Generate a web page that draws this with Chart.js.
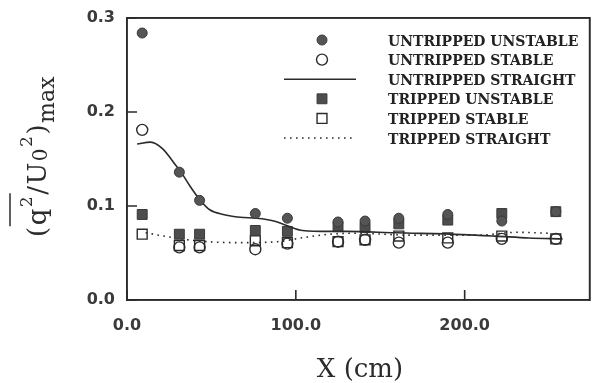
<!DOCTYPE html>
<html>
<head>
<meta charset="utf-8">
<title>Turbulence intensity vs X</title>
<script src="https://cdn.jsdelivr.net/npm/chart.js@4.4.1/dist/chart.umd.min.js"></script>
<style>
  html, body { margin: 0; padding: 0; background: #fff; }
</style>
</head>
<body>
<canvas id="myChart" width="598" height="383"></canvas>
<script>
// measuring stations along the channel (cm)
const stations = [9, 31, 43, 76, 95, 125, 141, 161, 190, 222, 254];

// (q^2/U0^2)max
const untrippedUnstable = [0.284, 0.136, 0.106, 0.092, 0.087, 0.083, 0.084, 0.087, 0.091, 0.084, 0.094];
const untrippedStable   = [0.181, 0.056, 0.056, 0.054, 0.060, 0.062, 0.064, 0.061, 0.061, 0.065, 0.065];
const trippedUnstable   = [0.091, 0.070, 0.070, 0.074, 0.073, 0.078, 0.077, 0.081, 0.085, 0.092, 0.094];
const trippedStable     = [0.070, 0.058, 0.058, 0.063, 0.061, 0.062, 0.064, 0.068, 0.066, 0.068, 0.065];

// straight channel curves
const untrippedStraightX = [6, 14, 21, 29, 32, 37, 43, 49, 57, 67, 77, 87, 95, 104, 120, 130, 159, 199, 218, 238, 258];
const untrippedStraightY = [0.166, 0.168, 0.161, 0.143, 0.136, 0.122, 0.107, 0.096, 0.091, 0.088, 0.087, 0.084, 0.079, 0.074, 0.073, 0.073, 0.0715, 0.0696, 0.068, 0.066, 0.065];
const trippedStraightX = [11, 32, 48, 67, 89, 105, 120, 134, 169, 208, 231, 250];
const trippedStraightY = [0.0715, 0.065, 0.062, 0.061, 0.062, 0.0665, 0.070, 0.071, 0.069, 0.069, 0.072, 0.071];

const xTicks = [0, 100, 200];
const yTicks = [0, 0.1, 0.2, 0.3];

const canvas = document.getElementById('myChart').getContext('2d');

function pares(xs, ys) {
    return xs.map((x, i) => ({ x: x, y: ys[i] }));
}

const ink = '#2b2b2b';
const clear = 'rgba(0,0,0,0)';
const borde = { display: true, color: ink, width: 1.6 };

// legend, axis titles and inward ticks
const decor = {
    id: 'decor',
    afterDraw(chart) {
        const ctx = chart.ctx;
        const a = chart.chartArea;
        const sx = chart.scales.x;
        const sy = chart.scales.y;

        // legend
        ctx.save();
        ctx.font = 'bold 14px "DejaVu Serif"';
        ctx.textBaseline = 'middle';
        ctx.textAlign = 'left';
        chart.data.datasets.forEach((ds, i) => {
            const y = 40 + i * 19.6;
            const sxm = 322;
            ctx.save();
            if (ds.showLine) {
                ctx.strokeStyle = ds.borderColor;
                ctx.lineWidth = ds.borderWidth;
                ctx.setLineDash(ds.borderDash || []);
                ctx.beginPath();
                ctx.moveTo(284, y);
                ctx.lineTo(356, y);
                ctx.stroke();
            } else {
                ctx.fillStyle = ds.pointBackgroundColor;
                ctx.strokeStyle = ds.pointBorderColor;
                ctx.lineWidth = ds.pointBorderWidth;
                ctx.beginPath();
                if (ds.pointStyle === 'rect') {
                    const s = ds.pointRadius * Math.SQRT1_2;
                    ctx.rect(sxm - s, y - s, 2 * s, 2 * s);
                } else {
                    ctx.arc(sxm, y, ds.pointRadius, 0, Math.PI * 2);
                }
                ctx.fill();
                ctx.stroke();
            }
            ctx.restore();
            ctx.fillStyle = '#222';
            ctx.fillText(ds.label, 388, y + 2);
        });
        ctx.restore();

        // x title
        ctx.save();
        ctx.font = '26px "DejaVu Serif"';
        ctx.textAlign = 'center';
        ctx.textBaseline = 'alphabetic';
        ctx.fillStyle = ink;
        ctx.fillText('X (cm)', 360, 377);
        ctx.restore();

        // y title, rotated: (q2/U02)max with overline on q2
        const partes = [
            { t: '(', f: 26, dy: 0 },
            { t: 'q', f: 26, dy: 0, bar: true },
            { t: '2', f: 17, dy: -14, bar: true },
            { t: '/', f: 26, dy: 0 },
            { t: 'U', f: 26, dy: 0 },
            { t: '0', f: 20, dy: 1 },
            { t: '2', f: 17, dy: -14 },
            { t: ')', f: 26, dy: 0 },
            { t: 'max', f: 22, dy: 8 }
        ];
        const gap = 1.5;
        ctx.save();
        ctx.fillStyle = ink;
        ctx.strokeStyle = ink;
        ctx.textAlign = 'left';
        ctx.textBaseline = 'alphabetic';
        let total = 0;
        for (const p of partes) {
            ctx.font = p.f + 'px "DejaVu Serif"';
            p.w = ctx.measureText(p.t).width;
            total += p.w + gap;
        }
        ctx.translate(46, 156);
        ctx.rotate(-Math.PI / 2);
        let cx = -total / 2;
        let barIni = null, barFin = null;
        for (const p of partes) {
            ctx.font = p.f + 'px "DejaVu Serif"';
            ctx.fillText(p.t, cx, p.dy);
            if (p.bar) {
                if (barIni === null) barIni = cx;
                barFin = cx + p.w;
            }
            cx += p.w + gap;
        }
        ctx.lineWidth = 1.5;
        ctx.setLineDash([]);
        ctx.beginPath();
        ctx.moveTo(barIni - 1, -36);
        ctx.lineTo(barFin + 3, -36);
        ctx.stroke();
        ctx.restore();

        // plot box and inward ticks
        ctx.save();
        ctx.setTransform(1, 0, 0, 1, 0, 0);
        ctx.strokeStyle = ink;
        ctx.lineWidth = 1.6;
        ctx.setLineDash([]);
        ctx.strokeRect(a.left, a.top, a.right - a.left, a.bottom - a.top);
        ctx.beginPath();
        for (const v of xTicks) {
            const px = sx.getPixelForValue(v);
            ctx.moveTo(px, a.bottom);
            ctx.lineTo(px, a.bottom - 10);
        }
        for (const v of yTicks) {
            const py = sy.getPixelForValue(v);
            ctx.moveTo(a.left, py);
            ctx.lineTo(a.left + 10, py);
        }
        ctx.stroke();
        ctx.restore();
    }
};

const myChart = new Chart(canvas, {
    type: 'scatter',
    data: {
        datasets: [
            {
                label: 'UNTRIPPED UNSTABLE',
                data: pares(stations, untrippedUnstable),
                pointStyle: 'circle',
                pointRadius: 5,
                pointBackgroundColor: '#555',
                pointBorderColor: '#3a3a3a',
                pointBorderWidth: 1
            },
            {
                label: 'UNTRIPPED STABLE',
                data: pares(stations, untrippedStable),
                pointStyle: 'circle',
                pointRadius: 5.5,
                pointBackgroundColor: clear,
                pointBorderColor: ink,
                pointBorderWidth: 1.4
            },
            {
                label: 'UNTRIPPED STRAIGHT',
                data: pares(untrippedStraightX, untrippedStraightY),
                showLine: true,
                pointRadius: 0,
                borderColor: ink,
                borderWidth: 1.6,
                cubicInterpolationMode: 'monotone'
            },
            {
                label: 'TRIPPED UNSTABLE',
                data: pares(stations, trippedUnstable),
                pointStyle: 'rect',
                pointRadius: 7,
                pointBackgroundColor: '#4d4d4d',
                pointBorderColor: '#3a3a3a',
                pointBorderWidth: 1
            },
            {
                label: 'TRIPPED STABLE',
                data: pares(stations, trippedStable),
                pointStyle: 'rect',
                pointRadius: 7,
                pointBackgroundColor: clear,
                pointBorderColor: ink,
                pointBorderWidth: 1.4
            },
            {
                label: 'TRIPPED STRAIGHT',
                data: pares(trippedStraightX, trippedStraightY),
                showLine: true,
                pointRadius: 0,
                borderColor: ink,
                borderWidth: 1.6,
                borderDash: [1.6, 4.4],
                cubicInterpolationMode: 'monotone'
            }
        ]
    },
    options: {
        responsive: false,
        animation: false,
        layout: { padding: { top: 18, right: 2, left: 0, bottom: 0 } },
        plugins: {
            legend: { display: false },
            tooltip: { enabled: false }
        },
        scales: {
            x: {
                type: 'linear',
                min: 0,
                max: 274,
                afterBuildTicks: (s) => { s.ticks = xTicks.map(v => ({ value: v })); },
                afterFit: (s) => { s.height = 83; s.paddingLeft = 0; s.paddingRight = 0; },
                grid: { display: false, drawTicks: false },
                border: borde,
                ticks: {
                    padding: 16,
                    color: '#3a3a3a',
                    font: { family: 'DejaVu Sans', size: 16, weight: 'bold' },
                    callback: (v) => Number(v).toFixed(1)
                }
            },
            y: {
                type: 'linear',
                min: 0,
                max: 0.3,
                afterBuildTicks: (s) => { s.ticks = yTicks.map(v => ({ value: v })); },
                afterFit: (s) => { s.width = 127; s.paddingTop = 0; s.paddingBottom = 0; },
                grid: { display: false, drawTicks: false },
                border: borde,
                ticks: {
                    padding: 12,
                    color: '#3a3a3a',
                    font: { family: 'DejaVu Sans', size: 16, weight: 'bold' },
                    callback: (v) => Number(v).toFixed(1)
                }
            },
            // top and right edges of the box
            xTop: {
                type: 'linear',
                position: 'top',
                display: true,
                min: 0,
                max: 274,
                afterFit: (s) => { s.height = 0; s.paddingLeft = 0; s.paddingRight = 0; },
                grid: { display: false, drawTicks: false },
                border: borde,
                ticks: { display: false }
            },
            yRight: {
                type: 'linear',
                position: 'right',
                display: true,
                min: 0,
                max: 0.3,
                afterFit: (s) => { s.width = 0; s.paddingTop = 0; s.paddingBottom = 0; },
                grid: { display: false, drawTicks: false },
                border: borde,
                ticks: { display: false }
            }
        }
    },
    plugins: [decor]
});
</script>
</body>
</html>
